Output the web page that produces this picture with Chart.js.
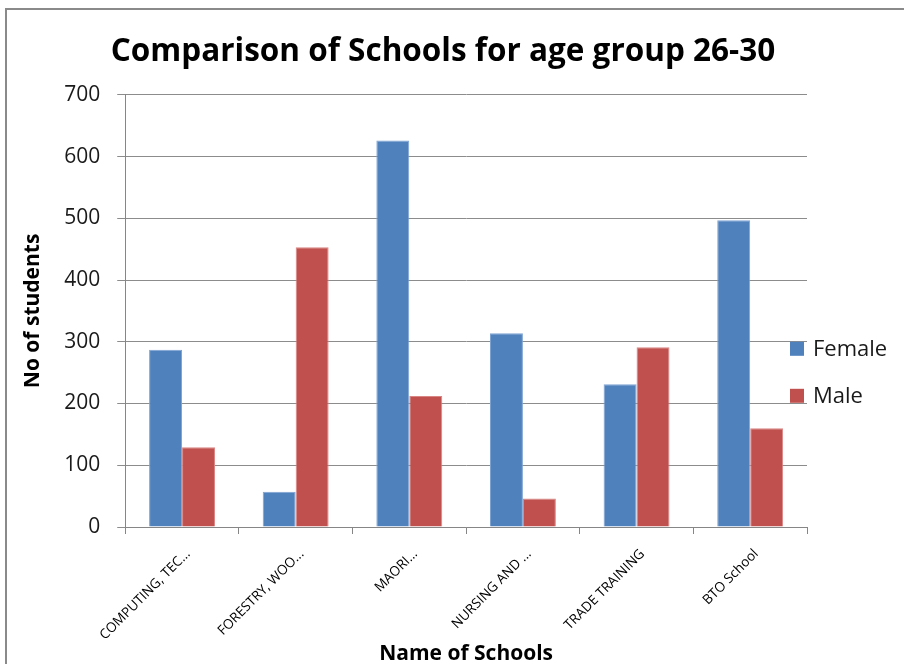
<!DOCTYPE html>
<html>
<head>
<meta charset="utf-8">
<script src="https://cdn.jsdelivr.net/npm/chart.js@4.4.1/dist/chart.umd.min.js"></script>
<style>
  html, body { margin: 0; padding: 0; background: #fff; overflow: hidden; }
  #frame { position: absolute; left: 5px; top: 8px; width: 1000px; height: 800px; border: 2px solid #8a8a8a; }
  #wrap { position: absolute; left: 0; top: 0; width: 904px; height: 667px; }
</style>
</head>
<body>
<div id="frame"></div>
<div id="wrap"><canvas id="chart"></canvas></div>
<script>
const schools = ["COMPUTING, TEC...", "FORESTRY, WOO...", "MAORI...", "NURSING AND ...", "TRADE TRAINING", "BTO School"];
const female = [287, 57, 626, 314, 231, 497];
const male = [129, 453, 212, 46, 291, 160];
const yTicks = [0, 100, 200, 300, 400, 500, 600, 700];

const FONT = "'Open Sans', sans-serif";

// legend drawn by hand so it can sit over the right edge of the plot like the original
const sideLegend = {
  id: 'sideLegend',
  afterDraw(chart) {
    const ctx = chart.ctx;
    const area = chart.chartArea;
    const x = area.right - 17;
    let y = area.top + 254;
    ctx.save();
    ctx.font = "22px " + FONT;
    ctx.textBaseline = 'middle';
    chart.data.datasets.forEach(ds => {
      ctx.fillStyle = ds.backgroundColor;
      ctx.fillRect(x, y - 7, 14, 14);
      ctx.fillStyle = '#1a1a1a';
      ctx.fillText(ds.label, x + 23, y + 1);
      y += 47;
    });
    ctx.restore();
  }
};

new Chart(document.getElementById('chart'), {
  type: 'bar',
  data: {
    labels: schools,
    datasets: [
      {
        label: "Female",
        data: female,
        backgroundColor: "#4F81BD",
        borderColor: "#7ea3d3",
        borderWidth: 1
      },
      {
        label: "Male",
        data: male,
        backgroundColor: "#C0504D",
        borderColor: "#d98583",
        borderWidth: 1
      }
    ]
  },
  options: {
    responsive: true,
    maintainAspectRatio: false,
    animation: false,
    layout: {
      padding: { left: 20, right: 38, top: 33, bottom: 0 }
    },
    datasets: {
      bar: { categoryPercentage: 0.58, barPercentage: 1.0 }
    },
    plugins: {
      legend: { display: false },
      tooltip: { enabled: false },
      title: {
        display: true,
        text: "Comparison of Schools for age group 26-30",
        color: '#000',
        font: { family: FONT, size: 31.5, weight: 'bold' },
        padding: { top: 0, bottom: 24 }
      }
    },
    scales: {
      x: {
        border: { color: '#868686', width: 1 },
        grid: { drawOnChartArea: false, drawTicks: true, tickLength: 7, color: '#868686', offset: true },
        ticks: {
          color: '#000',
          font: { family: FONT, size: 13.5 },
          minRotation: 45,
          maxRotation: 45,
          autoSkip: false,
          padding: 12,
          labelOffset: 6
        },
        title: {
          display: true,
          text: "Name of Schools",
          color: '#000',
          font: { family: FONT, size: 21, weight: 'bold' },
          padding: { top: 0, bottom: 0 }
        },
        // fixed height so the rotated labels and title keep the original spacing
        afterFit(axis) { axis.height = 140; }
      },
      y: {
        min: 0,
        max: 700,
        afterBuildTicks(axis) {
          axis.ticks = yTicks.map(v => ({ value: v }));
        },
        border: { color: '#868686', width: 1 },
        grid: { color: '#8c8c8c', lineWidth: 1, tickLength: 8 },
        ticks: {
          color: '#1a1a1a',
          font: { family: FONT, size: 21 },
          padding: 17
        },
        title: {
          display: true,
          text: "No of students",
          color: '#000',
          font: { family: FONT, size: 21, weight: 'bold' },
          padding: { top: 0, bottom: 2 }
        }
      },
      // empty axis on the right, only there to keep room for the legend
      spacer: {
        position: 'right',
        display: true,
        grid: { display: false },
        border: { display: false },
        ticks: { display: false },
        afterFit(axis) { axis.width = 59; }
      }
    }
  },
  plugins: [sideLegend]
});
</script>
</body>
</html>
